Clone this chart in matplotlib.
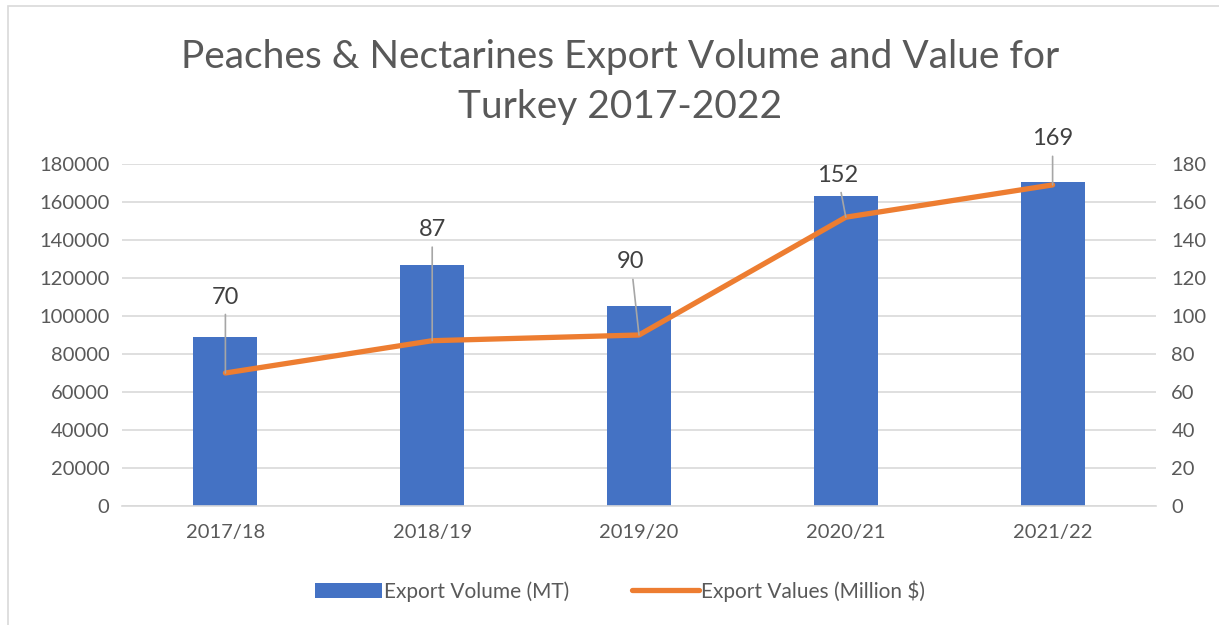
import matplotlib
matplotlib.use('Agg')
import matplotlib.pyplot as plt
import numpy as np
from matplotlib.patches import Rectangle

plt.rcParams['font.family'] = ['Lato', 'DejaVu Sans']

seasons = ['2017/18', '2018/19', '2019/20', '2020/21', '2021/22']
export_volume = [88800, 126800, 105400, 163300, 170400]
export_value = [70, 87, 90, 152, 169]

# label offsets (pixels) for the data labels
lbl_dx = [0, 0, -8, -8, 0]
lbl_dy = [76, 111, 73, 42, 46]

BLUE = '#4472C4'
ORANGE = '#ED7D31'
GREY = '#595959'

fig = plt.figure(figsize=(12.19, 6.25), dpi=100)
fig.patches.append(Rectangle((8/1219, -0.1), 1.2, 1 - 6/625 + 0.1, transform=fig.transFigure,
                             fill=False, edgecolor='#D9D9D9', lw=1.2))
ax = fig.add_axes([122/1219, 1 - 506/625, (1156 - 122)/1219, (506 - 164)/625])
ax2 = ax.twinx()

x = np.arange(len(seasons))
ax.bar(x, export_volume, width=0.31, color=BLUE, zorder=2, label='Export Volume (MT)')
ax2.plot(x, export_value, color=ORANGE, lw=3.8, solid_capstyle='round', zorder=3,
         label='Export Values (Million $)')

ax.set_xlim(-0.5, len(seasons) - 0.5)
ax.set_ylim(0, 180000)
ax.set_yticks(np.arange(0, 180001, 20000))
ax2.set_ylim(0, 180)
ax2.set_yticks(np.arange(0, 181, 20))
ax.yaxis.grid(True, color='#D9D9D9', lw=1.2)
ax.set_axisbelow(True)
ax.set_xticks(x)
ax.set_xticklabels(seasons)

for a in (ax, ax2):
    for s in a.spines.values():
        s.set_visible(False)
    a.tick_params(length=0, labelsize=14.5, labelcolor=GREY)
ax.spines['bottom'].set_visible(True)
ax.spines['bottom'].set_color('#D9D9D9')
ax.spines['bottom'].set_linewidth(1.2)
ax.tick_params(axis='x', pad=13)
ax.tick_params(axis='y', pad=9)
ax2.tick_params(axis='y', pad=11)

for i, v in enumerate(export_value):
    ax2.annotate(str(v), (x[i], v), xytext=(lbl_dx[i], lbl_dy[i]), textcoords='offset pixels',
                 ha='center', va='center', fontsize=17, color='#404040',
                 arrowprops=dict(arrowstyle='-', color='#A6A6A6', lw=1.2, shrinkA=3, shrinkB=0))

fig.text(620/1219, 1 - 82/625, 'Peaches & Nectarines Export Volume and Value for\nTurkey 2017-2022',
         ha='center', va='center', fontsize=28, color=GREY, linespacing=1.45)

h1, l1 = ax.get_legend_handles_labels()
h2, l2 = ax2.get_legend_handles_labels()
fig.legend(h1 + h2, l1 + l2, loc='center', bbox_to_anchor=(620/1219, 1 - 591/625), ncol=2,
           frameon=False, fontsize=15, labelcolor=GREY, handlelength=3.2, handletextpad=0.1,
           columnspacing=3.0)

fig.savefig('out.png', dpi=100)
